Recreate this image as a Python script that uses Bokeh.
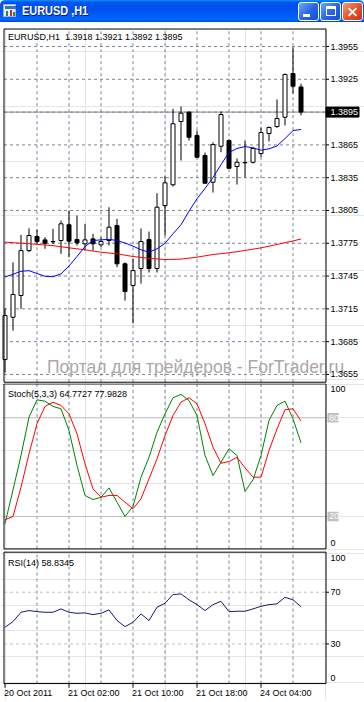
from bokeh.plotting import figure
from bokeh.models import ColumnDataSource, Range1d, Label, Div
from bokeh.layouts import column
from bokeh.embed import file_html
from bokeh.resources import INLINE
from bokeh.core.properties import value

# ---------------- data ----------------
window_title = "EURUSD ,H1"
symbol = "EURUSD,H1"
watermark = "Портал для трейдеров - ForTrader.ru"

opens = [1.36686, 1.37073, 1.37272, 1.37683, 1.37812, 1.37781, 1.37766, 1.37775, 1.37919, 1.37784,
         1.37745, 1.37790, 1.37736, 1.37775, 1.37912, 1.37562, 1.37363, 1.37519, 1.37784, 1.37519,
         1.38095, 1.38285, 1.38864, 1.38949, 1.38736, 1.38553, 1.38308, 1.38638, 1.38690, 1.38452,
         1.38489, 1.38491, 1.38571, 1.38754, 1.38818, 1.38903, 1.39303, 1.3918]
highs = [1.37153, 1.37576, 1.37827, 1.37887, 1.37875, 1.37805, 1.37882, 1.37958, 1.38049, 1.38004,
         1.37928, 1.37836, 1.37805, 1.38080, 1.37973, 1.37574, 1.37610, 1.37885, 1.37857, 1.38208,
         1.38361, 1.38980, 1.39001, 1.38958, 1.38781, 1.38580, 1.38674, 1.38955, 1.38700, 1.38525,
         1.38690, 1.38629, 1.38809, 1.38818, 1.39065, 1.39303, 1.39544, 1.3921]
lows = [1.36567, 1.36951, 1.37150, 1.37668, 1.37745, 1.37699, 1.37745, 1.37653, 1.37622, 1.37729,
        1.37683, 1.37683, 1.37714, 1.37729, 1.37531, 1.37226, 1.37016, 1.37381, 1.37482, 1.37482,
        1.37821, 1.38269, 1.38507, 1.38690, 1.38534, 1.38297, 1.38214, 1.38583, 1.38434, 1.38287,
        1.38354, 1.38479, 1.38537, 1.38681, 1.38806, 1.38827, 1.39120, 1.3892]
closes = [1.37089, 1.37281, 1.37683, 1.37821, 1.37766, 1.37750, 1.37763, 1.37928, 1.37769, 1.37754,
          1.37781, 1.37745, 1.37766, 1.37897, 1.37562, 1.37308, 1.37500, 1.37766, 1.37519, 1.38080,
          1.38303, 1.38843, 1.38940, 1.38720, 1.38537, 1.38299, 1.38653, 1.38928, 1.38436, 1.38491,
          1.38486, 1.38617, 1.38763, 1.38809, 1.38891, 1.39294, 1.39187, 1.3895]

ma_fast = [1.37441, 1.37466, 1.37494, 1.37499, 1.37473, 1.37448, 1.37444, 1.37470, 1.37542, 1.37629,
           1.37720, 1.37775, 1.37781, 1.37786, 1.37775, 1.37752, 1.37724, 1.37690, 1.37668, 1.37699,
           1.37750, 1.37837, 1.37919, 1.38043, 1.38157, 1.38251, 1.38351, 1.38470, 1.38580, 1.38617,
           1.38635, 1.38623, 1.38601, 1.38614, 1.38640, 1.38708, 1.38781, 1.38791]
ma_slow = [1.37760, 1.37755, 1.37750, 1.37746, 1.37740, 1.37734, 1.37728, 1.37718, 1.37708, 1.37699,
           1.37690, 1.37679, 1.37668, 1.37661, 1.37653, 1.37641, 1.37629, 1.37621, 1.37613, 1.37607,
           1.37601, 1.37603, 1.37605, 1.37614, 1.37623, 1.37635, 1.37647, 1.37655, 1.37663, 1.37673,
           1.37684, 1.37696, 1.37708, 1.37723, 1.37739, 1.37755, 1.37771, 1.37789]

stoch_params = "5,3,3"
stoch_k = [15.6, 36.2, 57.1, 80.4, 90.9, 90.1, 86.9, 85.5, 72.3, 51.0, 32.8, 30.3, 31.7, 37.4, 28.7,
           20.0, 26.1, 43.9, 56.0, 71.2, 82.4, 92.2, 94.2, 90.5, 81.4, 57.1, 44.9, 53.0, 61.2, 57.1,
           35.2, 42.3, 57.1, 78.4, 87.5, 90.1, 79.4, 64.7727]
stoch_d = [18.0, 20.0, 37.8, 58.1, 76.4, 86.9, 89.5, 87.5, 82.4, 70.3, 52.0, 36.8, 31.7, 32.8, 32.8,
           28.7, 24.7, 30.8, 42.9, 55.1, 69.2, 81.4, 89.5, 92.2, 88.5, 76.4, 62.1, 52.4, 53.4, 56.0,
           49.6, 43.9, 43.9, 60.1, 73.3, 84.9, 85.5, 77.9828]
stoch_levels = [20, 80]
stoch_bounds = [0, 100]

rsi_period = 14
rsi = [42.9, 47.3, 54.5, 55.8, 55.0, 54.5, 54.5, 57.1, 54.5, 53.7, 54.0, 52.7, 53.7, 56.3, 48.1,
       43.4, 46.7, 53.2, 48.1, 58.4, 61.5, 68.2, 68.7, 64.1, 60.4, 55.8, 60.4, 63.0, 55.0, 55.3,
       55.3, 57.1, 59.1, 60.4, 61.0, 66.1, 64.1, 58.8345]
rsi_levels = [30, 70]
rsi_bounds = [0, 100]

price_ticks = [1.3655, 1.3685, 1.3715, 1.3745, 1.3775, 1.3805, 1.3835, 1.3865, 1.3895, 1.3925, 1.3955]
grid_pos = [4, 8, 12, 16, 20, 24, 28, 32, 36]
time_tick_pos = [0, 8, 16, 24, 32]
time_tick_labels = ["20 Oct 2011", "21 Oct 02:00", "21 Oct 10:00", "21 Oct 18:00", "24 Oct 04:00"]

# ---------------- layout / style constants ----------------
FONT = "Liberation Sans"
FS = "9px"
GRID = "#778899"
W = 364
PXB = 8.0                      # pixels per bar
X0, X1 = -0.125, 40.125        # chart box (bar units)
TICK = 3 / PXB                 # 3 px tick in bar units
LBL = X1 + 4.5 / PXB           # start of right-hand labels

n = len(opens)
idx = list(range(n))
xr = Range1d(-0.5625, -0.5625 + W / PXB)


def fig(height, yr, top=0):
    f = figure(width=W, height=height, x_range=xr, y_range=yr, output_backend="svg",
               toolbar_location=None, x_axis_location=None, y_axis_location=None,
               min_border_left=0, min_border_right=0, min_border_top=top, min_border_bottom=0,
               outline_line_color=None, background_fill_color="white", border_fill_color="white")
    return f


def vgrid(f, y0, y1):
    f.segment(x0=grid_pos, y0=[y0] * len(grid_pos), x1=grid_pos, y1=[y1] * len(grid_pos),
              line_color=GRID, line_width=1, line_dash="3 3")


def hlines(f, ys, color, dash=None):
    kw = dict(line_dash=dash) if dash else {}
    f.segment(x0=[X0] * len(ys), y0=ys, x1=[X1] * len(ys), y1=ys, line_color=color, line_width=1, **kw)


def box(f, bottom, top):
    f.quad(left=[X0], right=[X1], bottom=[bottom], top=[top], fill_color=None,
           line_color="black", line_width=1)


def ticks_right(f, ys):
    f.segment(x0=[X1] * len(ys), y0=ys, x1=[X1 + TICK] * len(ys), y1=ys, line_color="black")


def texts(f, xs, ys, labels, baseline="middle", color="black", size=FS, xoff=0):
    f.text(x=xs, y=ys, text=labels, text_font=value(FONT), text_font_size=value(size),
           text_color=color, text_baseline=baseline, text_align="left", x_offset=xoff)


def header(f, y, text, yoff):
    f.add_layout(Label(x=X0, y=y, x_offset=4, y_offset=yoff, text=text, text_font=FONT,
                       text_font_size=FS, text_color="black", text_baseline="top", text_align="left"))


# ---------------- title bar ----------------
title_html = (
    '<div style="position:relative;width:364px;height:23px;background:#fff;overflow:hidden;'
    'font-family:\'Liberation Sans\',Arial,sans-serif;">'
    '<div style="position:absolute;left:0;top:0;width:364px;height:22px;border-radius:5px 5px 0 0;'
    'background:linear-gradient(180deg,#0997ff 0%,#0053ee 10%,#0050ee 45%,#0066ff 85%,#005bff 94%,#003dd7 100%);"></div>'
    '<div style="position:absolute;left:3px;top:4px;width:13px;height:13px;background:#e8eef8;border:1px solid #9fb4d8;">'
    '<div style="position:absolute;left:1px;top:1px;width:11px;height:3px;background:#3a6fd0;"></div>'
    '<div style="position:absolute;left:2px;top:6px;width:2px;height:5px;background:#2a8a3a;"></div>'
    '<div style="position:absolute;left:6px;top:5px;width:2px;height:6px;background:#c03030;"></div>'
    '<div style="position:absolute;left:9px;top:7px;width:2px;height:4px;background:#2a8a3a;"></div></div>'
    '<div style="position:absolute;left:22px;top:3px;line-height:16px;font-size:13px;font-weight:bold;color:#fff;'
    'text-shadow:1px 1px #0a1864;white-space:nowrap;transform:scaleX(0.84);transform-origin:left;">'
    + window_title + '</div>'
    '<div style="position:absolute;left:298px;top:2px;width:21px;height:19px;box-sizing:border-box;border:1px solid #fff;'
    'border-radius:3px;background:linear-gradient(135deg,#6aa6ff,#2663e8 55%,#1a4fd0);">'
    '<div style="position:absolute;left:4px;top:11px;width:7px;height:3px;background:#fff;"></div></div>'
    '<div style="position:absolute;left:320px;top:2px;width:21px;height:19px;box-sizing:border-box;border:1px solid #fff;'
    'border-radius:3px;background:linear-gradient(135deg,#6aa6ff,#2663e8 55%,#1a4fd0);">'
    '<div style="position:absolute;left:5px;top:3px;width:10px;height:10px;box-sizing:border-box;'
    'border:1px solid #fff;border-top:3px solid #fff;"></div></div>'
    '<div style="position:absolute;left:342px;top:2px;width:21px;height:19px;box-sizing:border-box;border:1px solid #fff;'
    'border-radius:3px;background:linear-gradient(135deg,#f59a7a,#e2502a 55%,#c83818);">'
    '<div style="position:absolute;left:4px;top:7.5px;width:11px;height:2px;background:#fff;transform:rotate(45deg);"></div>'
    '<div style="position:absolute;left:4px;top:7.5px;width:11px;height:2px;background:#fff;transform:rotate(-45deg);"></div>'
    '</div>'
    '</div>'
)
title_div = Div(text=title_html, width=W, height=23, margin=0)

# ---------------- main price chart ----------------
P_BOT, P_TOP = 1.36479, 1.39710          # chart box
PX = 1 / 10930.0                          # price per pixel
p = fig(360, Range1d(1.36467, 1.39724), top=4)
vgrid(p, P_BOT, P_TOP)
hlines(p, price_ticks, GRID, "3 3")
hlines(p, [closes[-1]], GRID)

src = ColumnDataSource(dict(
    i=idx, o=opens, h=highs, l=lows, c=closes,
    top=[max(a, b) for a, b in zip(opens, closes)],
    bot=[min(a, b) for a, b in zip(opens, closes)],
    fill=["white" if c >= o else "black" for o, c in zip(opens, closes)],
))
p.segment(x0="i", y0="l", x1="i", y1="h", source=src, line_color="black", line_width=1)
p.vbar(x="i", width=0.5, top="top", bottom="bot", source=src, fill_color="fill",
       line_color="black", line_width=1)
p.line(idx, ma_slow, line_color="#ff0000", line_width=1)
p.line(idx, ma_fast, line_color="#0000ff", line_width=1)

# watermark (runs over the price scale, as in the terminal)
p.text(x=[5.25], y=[1.36616], text=[watermark], text_font=value(FONT),
       text_font_size=value("17.5px"), text_color="#aea6a6", text_baseline="alphabetic",
       text_align="left")

box(p, P_BOT, P_TOP)
ticks_right(p, price_ticks)
others = [t for t in price_ticks if abs(t - closes[-1]) > 1e-9]
texts(p, [LBL] * len(others), others, [f"{t:.4f}" for t in others])
# current price marker
p.quad(left=[X1], right=[X1 + 33 / PXB], bottom=[closes[-1] - 5 * PX], top=[closes[-1] + 5 * PX],
       fill_color="black", line_color="black")
texts(p, [LBL], [closes[-1]], [f"{closes[-1]:.4f}"], color="white")
header(p, P_TOP,
       f"{symbol}\u00a0\u00a0{opens[-1]:.4f} {highs[-1]:.4f} {lows[-1]:.4f} {closes[-1]:.4f}", -3)

# ---------------- stochastic ----------------
S_BOT, S_TOP = 0.3, 100.6
s = fig(167, Range1d(-0.67, 100.85))
vgrid(s, S_BOT, S_TOP)
hlines(s, stoch_levels, "#c0c0c0")
s.line(idx, stoch_k, line_color="#008000", line_width=1)
s.line(idx, stoch_d, line_color="#ff0000", line_width=1)
box(s, S_BOT, S_TOP)
header(s, S_TOP, f"Stoch({stoch_params}) {stoch_k[-1]:.4f} {stoch_d[-1]:.4f}", -5)
texts(s, [LBL], [stoch_bounds[1] - 0.8], [str(stoch_bounds[1])], baseline="top")
texts(s, [LBL], [stoch_bounds[0] + 1.8], [str(stoch_bounds[0])], baseline="bottom")
s.quad(left=[X1 + 1.5 / PXB] * 2, right=[X1 + 12.5 / PXB] * 2,
       bottom=[l - 2.9 for l in stoch_levels], top=[l + 2.9 for l in stoch_levels],
       fill_color="#c0c0c0", line_color=None)
texts(s, [LBL - 1.5 / PXB] * 2, stoch_levels, [str(l) for l in stoch_levels], color="white")

# ---------------- RSI ----------------
R_BOT, R_TOP = -0.7, 101.0
r = fig(150, Range1d(-13.8, 102.3))
vgrid(r, R_BOT, R_TOP)
hlines(r, rsi_levels, "#c0c0c0", "3 3")
r.line(idx, rsi, line_color="#191970", line_width=1)
box(r, R_BOT, R_TOP)
header(r, R_TOP, f"RSI({rsi_period}) {rsi[-1]:.4f}", -6)
ticks_right(r, rsi_levels)
texts(r, [LBL] * 2, rsi_levels, [str(l) for l in rsi_levels])
texts(r, [LBL], [rsi_bounds[1] - 1.5], [str(rsi_bounds[1])], baseline="top")
texts(r, [LBL], [rsi_bounds[0] + 1.6], [str(rsi_bounds[0])], baseline="bottom")
# time scale
r.segment(x0=time_tick_pos, y0=[R_BOT] * len(time_tick_pos), x1=time_tick_pos,
          y1=[R_BOT - 3.2] * len(time_tick_pos), line_color="black")
texts(r, time_tick_pos, [-4.3] * len(time_tick_pos), time_tick_labels, baseline="top", xoff=-1)

layout = column(title_div, p, s, r, spacing=0)
open("out.html", "w").write(file_html(layout, INLINE, title=symbol))
